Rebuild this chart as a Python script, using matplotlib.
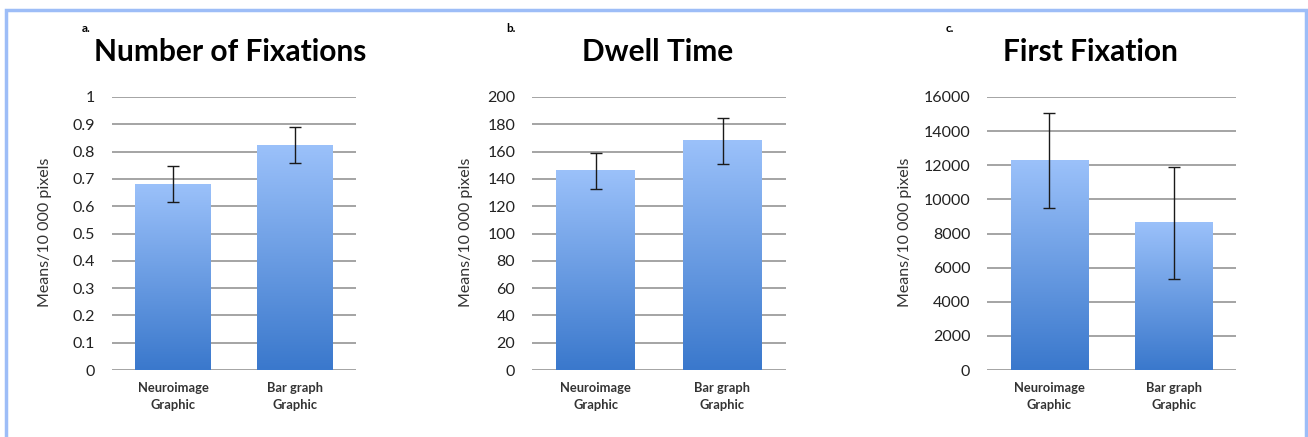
import matplotlib.pyplot as plt
import matplotlib.colors as mcolors
import numpy as np

plt.rcParams['font.family'] = ['Lato', 'DejaVu Sans']

#%% data
categories = ['Neuroimage\nGraphic', 'Bar graph\nGraphic']

fix_means = [0.681, 0.824]
fix_err = [0.065, 0.067]

dwell_means = [145.8, 167.8]
dwell_err = [13.5, 17.0]

first_means = [12300, 8620]
first_err = [2780, 3280]

panels = [
    ('a.', 'Number of Fixations', fix_means, fix_err, np.arange(0, 1.01, 0.1), 1.0,
     ['0', '0.1', '0.2', '0.3', '0.4', '0.5', '0.6', '0.7', '0.8', '0.9', '1']),
    ('b.', 'Dwell Time', dwell_means, dwell_err, np.arange(0, 201, 20), 200, None),
    ('c.', 'First Fixation', first_means, first_err, np.arange(0, 16001, 2000), 16000, None),
]

#%% layout (figure fractions)
W, H = 1308, 437
axes_px = [(112, 356), (532, 786), (987, 1236)]
letter_x = [82, 506, 946]
title_x = [230, 658, 1090]
ylab_x = [45, 466, 905]

grad = mcolors.LinearSegmentedColormap.from_list('bar', ['#3a78cc', '#9bc1fa'])

fig = plt.figure(figsize=(W / 100, H / 100), dpi=100)

# light blue frame around the whole figure
fig.add_artist(plt.Rectangle((6 / W, -0.05), 1300 / W, 1 - 10 / H + 0.05,
                             transform=fig.transFigure, fill=False,
                             edgecolor='#9dbdf7', lw=2.5))

for i, (letter, title, means, errs, ticks, ymax, ticklabels) in enumerate(panels):
    x0, x1 = axes_px[i]
    ax = fig.add_axes([x0 / W, 1 - 370 / H, (x1 - x0) / W, 273 / H])
    for t in ticks:
        ax.axhline(t, color='#8c8c8c', lw=1.1, zorder=1)
    width = 0.62
    for j, (m, e) in enumerate(zip(means, errs)):
        g = np.linspace(0, 1, 256).reshape(-1, 1)
        ax.imshow(g, cmap=grad, origin='lower', aspect='auto',
                  extent=[j - width / 2, j + width / 2, 0, m], zorder=2)
        ax.errorbar(j, m, yerr=e, fmt='none', ecolor='#1a1a1a', elinewidth=1,
                    capsize=4, capthick=1, zorder=3)
    ax.set_xlim(-0.5, 1.5)
    ax.set_ylim(0, ymax)
    for s in ax.spines.values():
        s.set_visible(False)
    ax.set_yticks(ticks)
    if ticklabels:
        ax.set_yticklabels(ticklabels)
    else:
        ax.set_yticklabels([str(int(t)) for t in ticks])
    ax.tick_params(axis='y', length=0, pad=12, labelsize=11.5, labelcolor='#222222')
    ax.set_xticks([0, 1])
    ax.set_xticklabels(categories, fontsize=9.3, fontweight='bold', color='#333333',
                       linespacing=1.45)
    ax.tick_params(axis='x', length=0, pad=9)

    fig.text(letter_x[i] / W, 1 - 28 / H, letter, fontsize=8.5, fontweight='bold',
             ha='left', va='center')
    fig.text(title_x[i] / W, 1 - 52 / H, title, fontsize=21.5, fontweight='bold',
             ha='center', va='center')
    fig.text(ylab_x[i] / W, 1 - 232 / H, 'Means/10 000 pixels', fontsize=11.5,
             color='#333333', rotation=90, ha='center', va='center')

fig.savefig('out.png', dpi=100)
